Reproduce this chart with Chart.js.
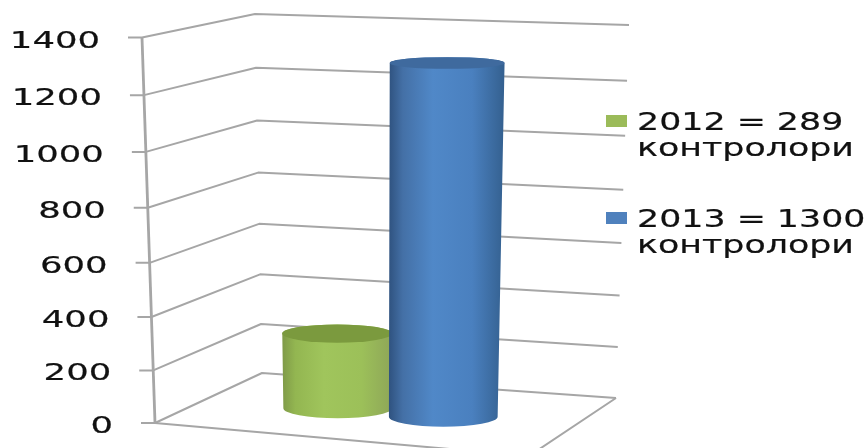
<!DOCTYPE html>
<html>
<head>
<meta charset="utf-8">
<script src="https://cdn.jsdelivr.net/npm/chart.js@4"></script>
<style>
  html, body { margin: 0; padding: 0; background: #fff; }
  #wrap { width: 867px; height: 448px; overflow: hidden; }
</style>
</head>
<body>
<div id="wrap"><canvas id="chart" width="867" height="448"></canvas></div>
<script>
const categories = ['контролори'];
const years = ['2012', '2013'];
const values = [289, 1300];
const seriesColors = ['#9BBB59', '#4F81BD'];
const legendUnit = 'контролори';

// corners of the 3D box on the page: [x, y] at height 0 and at full height
const box = {
  frontLeft:  [[155, 423], [142, 37.5]],
  frontRight: [[529, 456], [540, 53]],
  backLeft:   [[262, 373], [255, 14]],
  backRight:  [[616, 398], [629, 25]]
};
const perspective = 0.055;
const barDepth = 0.5;
const gridColor = '#a6a6a6';
const textColor = '#111';

function mix(a, b, f) { return a + (b - a) * f; }

function project(u, d, t) {
  const h = t / (1 + perspective * (1 - t));
  const out = [0, 1].map(i => {
    const fl = mix(box.frontLeft[0][i], box.frontLeft[1][i], h);
    const fr = mix(box.frontRight[0][i], box.frontRight[1][i], h);
    const bl = mix(box.backLeft[0][i], box.backLeft[1][i], h);
    const br = mix(box.backRight[0][i], box.backRight[1][i], h);
    return mix(mix(fl, fr, u), mix(bl, br, u), d);
  });
  return { x: out[0], y: out[1], h: h };
}

function stretchText(ctx, text, x, y, font, sx, align) {
  ctx.save();
  ctx.font = font;
  ctx.fillStyle = textColor;
  ctx.strokeStyle = textColor;
  ctx.lineWidth = 0.2;
  ctx.textBaseline = 'alphabetic';
  ctx.textAlign = align || 'left';
  ctx.translate(x, y);
  ctx.scale(sx, 1);
  ctx.fillText(text, 0, 0);
  ctx.strokeText(text, 0, 0);
  ctx.restore();
}

const cylinderShades = {
  '#9BBB59': { top: '#7b9a3e', stops: ['#7f9a48', '#93b651', '#a0c55c', '#9cc059', '#8ea658'] },
  '#4F81BD': { top: '#3f6a9e', stops: ['#2f527f', '#4470a6', '#5088c8', '#4a80bf', '#34608f'] }
};

function drawCylinder(ctx, chart, el, color) {
  const area = chart.chartArea;
  const y = chart.scales.y;
  const u0 = (el.x - el.width / 2 - area.left) / area.width;
  const u1 = (el.x + el.width / 2 - area.left) / area.width;
  const t = (y.bottom - el.y) / y.height;
  const a = project(u0, barDepth, 0), b = project(u1, barDepth, 0);
  const c = project(u0, barDepth, t), e = project(u1, barDepth, t);
  const yBase = (a.y + b.y) / 2, yTop = (c.y + e.y) / 2;
  const ryBase = 10, ryTop = 10 - 4.5 * c.h;
  const shade = cylinderShades[color];

  const grad = ctx.createLinearGradient(Math.min(a.x, c.x), 0, Math.max(b.x, e.x), 0);
  [0, 0.12, 0.38, 0.72, 1].forEach((p, i) => grad.addColorStop(p, shade.stops[i]));

  ctx.beginPath();
  ctx.ellipse((c.x + e.x) / 2, yTop, (e.x - c.x) / 2, ryTop, 0, Math.PI, 0, false);
  ctx.lineTo(b.x, yBase);
  ctx.ellipse((a.x + b.x) / 2, yBase, (b.x - a.x) / 2, ryBase, 0, 0, Math.PI, false);
  ctx.closePath();
  ctx.fillStyle = grad;
  ctx.fill();

  ctx.beginPath();
  ctx.ellipse((c.x + e.x) / 2, yTop, (e.x - c.x) / 2, ryTop, 0, 0, Math.PI * 2);
  ctx.fillStyle = shade.top;
  ctx.fill();
}

// bars are laid out by the bar controller, the plugin below paints them as cylinders
class CylinderController extends Chart.BarController {
  draw() {}
}
CylinderController.id = 'cylinder';
CylinderController.defaults = Chart.BarController.defaults;
Chart.register(CylinderController);

const boxPlugin = {
  id: 'box3d',
  beforeDatasetsDraw(chart) {
    const ctx = chart.ctx, y = chart.scales.y;
    ctx.save();
    ctx.strokeStyle = gridColor;
    ctx.lineWidth = 2;
    ctx.lineJoin = 'round';
    y.ticks.forEach(tick => {
      const t = (y.bottom - y.getPixelForValue(tick.value)) / y.height;
      const p0 = project(0, 0, t), p1 = project(0, 1, t), p2 = project(1, 1, t);
      ctx.beginPath();
      ctx.moveTo(p0.x - 14, p0.y);
      ctx.lineTo(p0.x, p0.y);
      ctx.lineTo(p1.x, p1.y);
      ctx.lineTo(p2.x, p2.y);
      ctx.stroke();
      stretchText(ctx, tick.label, p0.x - 42, p0.y + 10, '23px "DejaVu Sans"', 1.54, 'right');
    });
    // floor edges and the vertical axis
    const fl = project(0, 0, 0), fr = project(1, 0, 0), br = project(1, 1, 0), top = project(0, 0, 1);
    ctx.beginPath();
    ctx.moveTo(fl.x, fl.y);
    ctx.lineTo(fr.x, fr.y);
    ctx.lineTo(br.x, br.y);
    ctx.stroke();
    ctx.lineWidth = 2.8;
    ctx.beginPath();
    ctx.moveTo(top.x, top.y);
    ctx.lineTo(fl.x, fl.y);
    ctx.stroke();
    ctx.restore();
  },
  afterDatasetsDraw(chart) {
    // 2013 goes last so it sits in front of 2012
    chart.data.datasets.forEach((ds, i) => {
      chart.getDatasetMeta(i).data.forEach(el => drawCylinder(chart.ctx, chart, el, ds.backgroundColor));
    });
  },
  afterDraw(chart) {
    const ctx = chart.ctx;
    const font = '24px "DejaVu Sans"';
    years.forEach((year, i) => {
      const top = 115 + i * 97;
      ctx.fillStyle = seriesColors[i];
      ctx.fillRect(606, top, 21, 12);
      stretchText(ctx, year + ' = ' + values[i], 637, top + 14.5, font, 1.45);
      stretchText(ctx, legendUnit, 637, top + 41, font, 1.45);
    });
  }
};

const datasets = years.map((year, i) => ({
  label: year + ' = ' + values[i] + ' ' + legendUnit,
  data: [values[i]],
  backgroundColor: seriesColors[i]
}));

new Chart(document.getElementById('chart'), {
  type: 'cylinder',
  data: { labels: categories, datasets: datasets },
  plugins: [boxPlugin],
  options: {
    responsive: false,
    animation: false,
    categoryPercentage: 0.58,
    barPercentage: 1.03,
    layout: { padding: { left: 155, right: 338, top: 37.5, bottom: 25 } },
    plugins: { legend: { display: false }, tooltip: { enabled: false } },
    scales: {
      x: { type: 'category', offset: true, display: false, grid: { display: false } },
      y: {
        type: 'linear',
        min: 0,
        max: 1400,
        grid: { display: false },
        border: { display: false },
        ticks: { display: false, stepSize: 200, callback: v => String(v) }
      }
    }
  }
});
</script>
</body>
</html>
